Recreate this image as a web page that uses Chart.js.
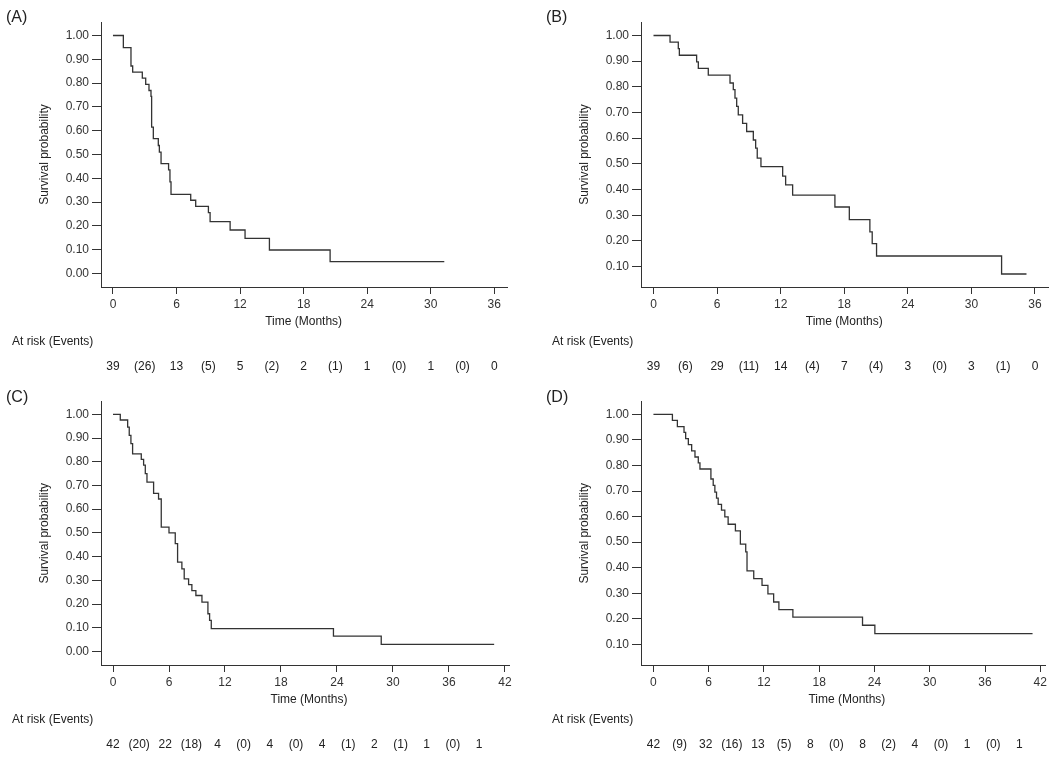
<!doctype html>
<html>
<head>
<meta charset="UTF-8" />
<title>Survival curves</title>
<script src="https://cdn.jsdelivr.net/npm/chart.js"></script>
<style>
  body { margin: 0; background: #fff; }
  #wrap { position: relative; width: 1050px; height: 762px; }
  canvas { position: absolute; }
</style>
</head>
<body>
<div id="wrap">
  <canvas id="chartA" width="525" height="381" style="left:0px;top:0px"></canvas>
  <canvas id="chartB" width="525" height="381" style="left:525px;top:0px"></canvas>
  <canvas id="chartC" width="525" height="381" style="left:0px;top:381px"></canvas>
  <canvas id="chartD" width="525" height="381" style="left:525px;top:381px"></canvas>
</div>
<script>
// step times (months) and survival after each step
var timeA = [0, 0.98, 1.70, 1.86, 2.77, 3.09, 3.40, 3.59, 3.65, 3.81, 4.28, 4.38, 4.54, 5.25, 5.38, 5.48, 7.34, 7.81, 9.01, 9.17, 11.06, 12.47, 14.77, 20.50, 31.28];
var survA = [1.000, 0.949, 0.872, 0.846, 0.821, 0.795, 0.769, 0.744, 0.615, 0.567, 0.538, 0.510, 0.462, 0.436, 0.385, 0.333, 0.308, 0.282, 0.256, 0.218, 0.183, 0.148, 0.099, 0.050, 0.050];

var timeB = [0, 1.56, 2.34, 2.44, 4.07, 4.23, 5.17, 7.22, 7.53, 7.69, 7.85, 8.00, 8.41, 8.79, 9.42, 9.64, 9.79, 10.14, 12.19, 12.47, 13.13, 17.12, 18.48, 20.42, 20.64, 21.05, 32.85, 35.20];
var survB = [1.000, 0.974, 0.949, 0.923, 0.897, 0.872, 0.846, 0.815, 0.789, 0.756, 0.724, 0.691, 0.658, 0.626, 0.593, 0.561, 0.522, 0.489, 0.452, 0.418, 0.378, 0.332, 0.283, 0.235, 0.189, 0.141, 0.071, 0.071];

var timeC = [0, 0.78, 1.57, 1.74, 1.92, 2.10, 3.03, 3.28, 3.46, 3.64, 4.35, 4.88, 5.17, 6.00, 6.67, 6.92, 7.38, 7.63, 8.10, 8.45, 8.88, 9.53, 10.17, 10.35, 10.53, 23.62, 28.74, 40.84];
var survC = [1.000, 0.976, 0.946, 0.911, 0.876, 0.833, 0.810, 0.786, 0.750, 0.714, 0.667, 0.643, 0.524, 0.500, 0.455, 0.377, 0.348, 0.306, 0.282, 0.257, 0.236, 0.208, 0.159, 0.131, 0.096, 0.065, 0.030, 0.030];

var timeD = [0, 2.06, 2.60, 3.32, 3.50, 3.79, 4.15, 4.51, 4.87, 5.05, 6.24, 6.49, 6.67, 6.85, 7.03, 7.39, 7.75, 8.11, 8.90, 9.44, 10.02, 10.16, 10.89, 11.79, 12.43, 13.05, 13.62, 15.14, 22.70, 24.04, 41.16];
var survD = [1.000, 0.976, 0.952, 0.929, 0.905, 0.881, 0.857, 0.833, 0.810, 0.786, 0.747, 0.722, 0.696, 0.672, 0.648, 0.625, 0.599, 0.570, 0.544, 0.492, 0.462, 0.388, 0.357, 0.331, 0.298, 0.266, 0.236, 0.207, 0.175, 0.142, 0.142];

// at risk at each 6-month mark, events in between
var atRiskA = [39, 13, 5, 2, 1, 1, 0];
var eventsA = [26, 5, 2, 1, 0, 0];
var atRiskB = [39, 29, 14, 7, 3, 3, 0];
var eventsB = [6, 11, 4, 4, 0, 1];
var atRiskC = [42, 22, 4, 4, 4, 2, 1, 1];
var eventsC = [20, 18, 0, 0, 1, 1, 0];
var atRiskD = [42, 32, 13, 8, 8, 4, 1, 1];
var eventsD = [9, 16, 5, 0, 2, 0, 0];

var monthTicks36 = [0, 6, 12, 18, 24, 30, 36];
var monthTicks42 = [0, 6, 12, 18, 24, 30, 36, 42];
var probTicks = [0, 0.1, 0.2, 0.3, 0.4, 0.5, 0.6, 0.7, 0.8, 0.9, 1.0];
var probTicksFrom10 = [0.1, 0.2, 0.3, 0.4, 0.5, 0.6, 0.7, 0.8, 0.9, 1.0];

var FONT = '"Liberation Sans", Arial, sans-serif';
var INK = '#333';

function drawPanel(id, cfg) {
    var W = 525, H = 381;
    var area = cfg.area; // left, top, right, bottom inside the canvas
    var points = cfg.time.map(function (t, i) { return { x: t, y: cfg.surv[i] }; });

    // panel letter, axis titles and the risk table
    var extras = {
        id: 'extras',
        afterDraw: function (chart) {
            var ctx = chart.ctx;
            var ca = chart.chartArea;
            var xs = chart.scales.x;
            ctx.save();
            ctx.fillStyle = '#222';
            ctx.textBaseline = 'middle';

            ctx.font = '16px ' + FONT;
            ctx.textAlign = 'left';
            ctx.fillText(cfg.label, ca.left - 95, ca.top - 4);

            ctx.font = '12px ' + FONT;
            ctx.save();
            ctx.translate(ca.left - 56, (ca.top + ca.bottom) / 2);
            ctx.rotate(-Math.PI / 2);
            ctx.textAlign = 'center';
            ctx.fillText('Survival probability', 0, 0);
            ctx.restore();

            var first = xs.getPixelForValue(cfg.xTicks[0]);
            var last = xs.getPixelForValue(cfg.xTicks[cfg.xTicks.length - 1]);
            ctx.textAlign = 'center';
            ctx.fillText('Time (Months)', (first + last) / 2, ca.bottom + 35);

            ctx.textAlign = 'left';
            ctx.fillText('At risk (Events)', ca.left - 89, ca.bottom + 55);

            var row = [];
            cfg.atRisk.forEach(function (n, i) {
                row.push(String(n));
                if (i < cfg.events.length) row.push('(' + cfg.events[i] + ')');
            });
            var step = cfg.riskStep || (xs.getPixelForValue(3) - first);
            ctx.textAlign = 'center';
            row.forEach(function (s, i) {
                ctx.fillText(s, first + i * step, ca.bottom + 80);
            });
            ctx.restore();
        }
    };

    var tickFont = { family: FONT, size: 12 };

    return new Chart(document.getElementById(id).getContext('2d'), {
        type: 'line',
        data: {
            datasets: [{
                data: points,
                stepped: true,
                borderColor: INK,
                borderWidth: 1.3,
                pointRadius: 0,
                fill: false
            }]
        },
        options: {
            responsive: false,
            animation: false,
            layout: { padding: { left: 0, top: area[1], right: W - area[2], bottom: 0 } },
            plugins: { legend: { display: false }, tooltip: { enabled: false } },
            scales: {
                x: {
                    type: 'linear',
                    min: cfg.xMin,
                    max: cfg.xMax,
                    afterBuildTicks: function (s) { s.ticks = cfg.xTicks.map(function (v) { return { value: v }; }); },
                    afterFit: function (s) { s.height = H - area[3]; },
                    grid: { drawOnChartArea: false, drawTicks: true, tickLength: 7, color: INK, lineWidth: 1 },
                    border: { display: true, color: INK, width: 1 },
                    ticks: { autoSkip: false, maxRotation: 0, padding: 3, color: INK, font: tickFont }
                },
                y: {
                    type: 'linear',
                    min: cfg.yMin,
                    max: cfg.yMax,
                    afterBuildTicks: function (s) { s.ticks = cfg.yTicks.map(function (v) { return { value: v }; }); },
                    afterFit: function (s) { s.width = area[0]; },
                    grid: { drawOnChartArea: false, drawTicks: true, tickLength: 9, color: INK, lineWidth: 1 },
                    border: { display: true, color: INK, width: 1 },
                    ticks: {
                        padding: 3, color: INK, font: tickFont,
                        callback: function (v) { return Number(v).toFixed(2); }
                    }
                }
            }
        },
        plugins: [extras]
    });
}

drawPanel('chartA', {
    label: '(A)', time: timeA, surv: survA, atRisk: atRiskA, events: eventsA,
    area: [101, 22, 507, 287], xMin: -1.13, xMax: 37.2, yMin: -0.0563, yMax: 1.0567,
    xTicks: monthTicks36, yTicks: probTicks
});
drawPanel('chartB', {
    label: '(B)', time: timeB, surv: survB, atRisk: atRiskB, events: eventsB,
    area: [116, 22, 523, 287], xMin: -1.18, xMax: 37.23, yMin: 0.0203, yMax: 1.0526,
    xTicks: monthTicks36, yTicks: probTicksFrom10
});
drawPanel('chartC', {
    label: '(C)', time: timeC, surv: survC, atRisk: atRiskC, events: eventsC,
    area: [101, 20.5, 509, 284], xMin: -1.286, xMax: 42.43, yMin: -0.057, yMax: 1.054,
    xTicks: monthTicks42, yTicks: probTicks, riskStep: 26.14
});
drawPanel('chartD', {
    label: '(D)', time: timeD, surv: survD, atRisk: atRiskD, events: eventsD,
    area: [116, 20.5, 522, 284], xMin: -1.35, xMax: 42.54, yMin: 0.0196, yMax: 1.05,
    xTicks: monthTicks42, yTicks: probTicksFrom10, riskStep: 26.14
});
</script>
</body>
</html>
